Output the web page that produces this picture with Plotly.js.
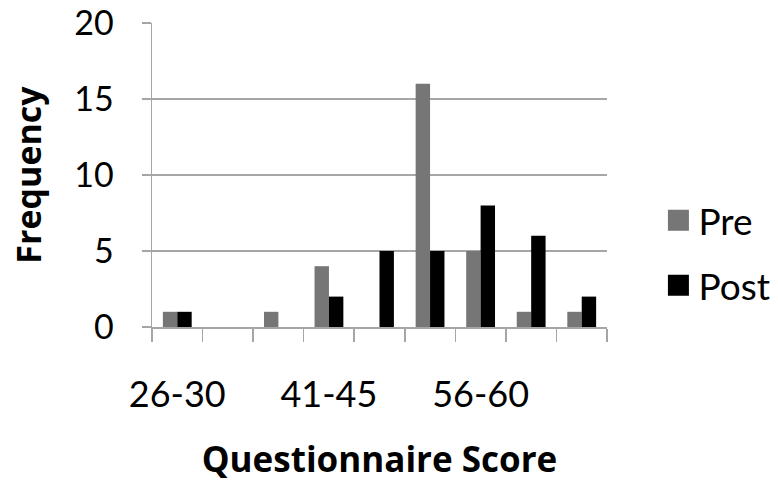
<!DOCTYPE html>
<html>
<head>
<meta charset="utf-8">
<script src="https://cdn.plot.ly/plotly-3.0.1.min.js"></script>
<style>html,body{margin:0;padding:0;background:#fff;}#chart{width:778px;height:486px;}</style>
</head>
<body>
<div id="chart"></div>
<script>
const categories = ['26-30','31-35','36-40','41-45','46-50','51-55','56-60','61-65','66-70'];
const preValues  = [1, 0, 1, 4, 0, 16, 5, 1, 1];
const postValues = [1, 0, 0, 2, 5, 5, 8, 6, 2];
const seriesNames = ['Pre', 'Post'];
const seriesColors = ['#767676', '#000000'];
const shownTickLabels = ['26-30', '41-45', '56-60'];

const FONT = 'Lato, "Open Sans", sans-serif';
const TITLE_FONT = '"Open Sans", Lato, sans-serif';
const GRID = '#a6a6a6';

const traces = [
  {type:'bar', x:categories, y:preValues, name:seriesNames[0], marker:{color:seriesColors[0]}, showlegend:false, hoverinfo:'x+y'},
  {type:'bar', x:categories, y:postValues, name:seriesNames[1], marker:{color:seriesColors[1]}, showlegend:false, hoverinfo:'x+y'},
  {type:'scatter', mode:'markers', x:[null], y:[null], name:seriesNames[0], legendgroup:'a',
   marker:{symbol:'square', size:16, color:seriesColors[0], line:{width:5, color:seriesColors[0]}}},
  {type:'scatter', mode:'markers', x:[null], y:[null], name:seriesNames[1], legendgroup:'b',
   marker:{symbol:'square', size:16, color:seriesColors[1], line:{width:5, color:seriesColors[1]}}}
];

const layout = {
  width:778, height:486,
  margin:{l:152, r:171, t:23, b:159, pad:0, autoexpand:false},
  paper_bgcolor:'#fff', plot_bgcolor:'#fff',
  font:{family:FONT, color:'#000', size:34},
  barmode:'group', bargap:0.43, bargroupgap:0,
  xaxis:{
    type:'category',
    categoryorder:'array', categoryarray:categories,
    tickvals:categories,
    ticktext:categories.map(c => shownTickLabels.includes(c) ? c : ''),
    tickson:'boundaries', tickangle:0,
    ticks:'outside', ticklen:13, tickwidth:1.5, tickcolor:GRID,
    showline:true, linecolor:GRID, linewidth:1.5,
    showgrid:false, zeroline:false,
    tickfont:{family:FONT, size:36, color:'#000'},
    ticklabelstandoff:35,
    title:{text:'Questionnaire Score', font:{family:TITLE_FONT, size:35, color:'#000', weight:'bold'}, standoff:34},
    fixedrange:true
  },
  yaxis:{
    range:[0,20], dtick:5, tick0:0,
    ticks:'outside', ticklen:9, tickwidth:1.5, tickcolor:GRID,
    showline:true, linecolor:GRID, linewidth:1.5,
    showgrid:true, gridcolor:GRID, gridwidth:1.5,
    zeroline:false,
    tickfont:{family:FONT, size:34, color:'#000'},
    ticklabelstandoff:21,
    title:{text:'Frequency', font:{family:TITLE_FONT, size:34, color:'#000', weight:'bold'}, standoff:22},
    fixedrange:true
  },
  showlegend:true,
  legend:{
    x:1.113, xanchor:'left', y:0.243, yanchor:'middle',
    font:{family:FONT, size:37, color:'#000'},
    traceorder:'grouped', tracegroupgap:14,
    itemwidth:30, bgcolor:'rgba(0,0,0,0)'
  }
};

Plotly.newPlot('chart', traces, layout, {displayModeBar:false, staticPlot:true});
</script>
</body>
</html>
